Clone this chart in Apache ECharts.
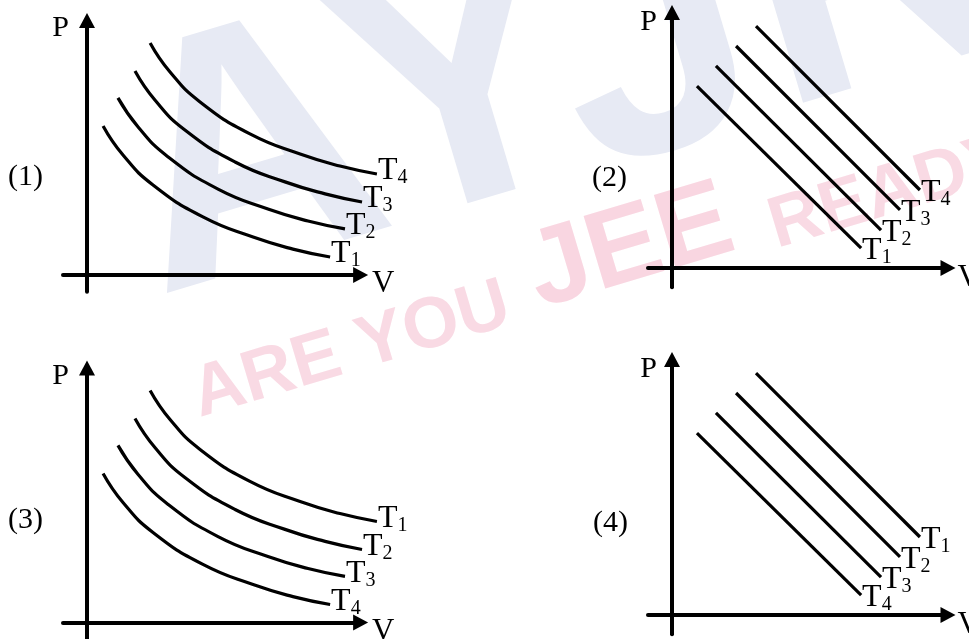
<!DOCTYPE html>
<html>
<head>
<meta charset="utf-8">
<style>
  html, body { margin: 0; padding: 0; background: #fff; }
  #chart { width: 969px; height: 639px; }
</style>
</head>
<body>
<div id="chart"></div>
<script src="https://cdn.jsdelivr.net/npm/echarts@6/dist/echarts.min.js"></script>
<script>
// isotherms, [V, P], top curve first
var hypA = [[2.63, 9.67], [3.46, 8.46], [4.71, 7.21], [6.79, 5.88], [8.88, 5.04], [10.54, 4.54], [12.08, 4.21]];
var hypB = [[2.0, 8.5], [2.83, 7.29], [4.08, 6.04], [6.17, 4.71], [8.25, 3.88], [9.92, 3.38], [11.46, 3.04]];
var hypC = [[1.29, 7.38], [2.13, 6.17], [3.38, 4.92], [5.46, 3.58], [7.54, 2.75], [9.21, 2.25], [10.75, 1.92]];
var hypD = [[0.67, 6.21], [1.5, 5.0], [2.75, 3.75], [4.83, 2.42], [6.92, 1.58], [8.58, 1.08], [10.13, 0.75]];

// straight lines, [V, P] start and end
var lineA = [[3.5, 10.08], [10.33, 3.25]];
var lineB = [[2.67, 9.25], [9.5, 2.42]];
var lineC = [[1.83, 8.42], [8.71, 1.58]];
var lineD = [[1.04, 7.58], [7.88, 0.83]];

// subscripts of T, top curve first
var subs1 = ['4', '3', '2', '1'];
var subs2 = ['4', '3', '2', '1'];
var subs3 = ['1', '2', '3', '4'];
var subs4 = ['1', '2', '3', '4'];

var tags = ['(1)', '(2)', '(3)', '(4)'];

var serif = '"Liberation Serif", "Times New Roman", serif';
var sans = '"Liberation Sans", Arial, sans-serif';

var myChart = echarts.init(document.getElementById('chart'));

var hyps = [hypA, hypB, hypC, hypD];
var lines = [lineA, lineB, lineC, lineD];

var panels = [
  {curves: hyps, subs: subs1, smooth: true, left: 63, top: 20.6, kind: 'a'},
  {curves: lines, subs: subs2, smooth: false, left: 648, top: 12.4, kind: 'b'},
  {curves: hyps, subs: subs3, smooth: true, left: 63, top: 368.1, kind: 'a'},
  {curves: lines, subs: subs4, smooth: false, left: 648, top: 359.4, kind: 'b'}
];

// axis ranges per panel kind (24px per unit); plotMax is wider so curve ends are not cut
var kinds = {
  a: {xmin: -1, xmax: 11.4, plotMax: 13, ymin: -0.7, ymax: 10.6, pGap: -8, pPad: 18, vGap: 11.4, vLh: 18, dy: -3},
  b: {xmin: -1, xmax: 11.5, plotMax: 12.5, ymin: -0.8, ymax: 10.65, pGap: -10, pPad: 15, vGap: 9.5, vLh: 20, dy: 3}
};
var unit = 24;

var axisLine = {
  show: true,
  onZero: true,
  symbol: ['none', 'triangle'],
  symbolSize: [16, 15],
  lineStyle: {color: '#000', width: 4}
};
var hidden = {show: false};

var grid = [], xAxis = [], yAxis = [], series = [];

panels.forEach(function (p, i) {
  var k = kinds[p.kind];
  var h = (k.ymax - k.ymin) * unit;
  // frame grid: the visible axes
  grid.push({left: p.left, top: p.top, width: (k.xmax - k.xmin) * unit, height: h, outerBoundsMode: 'none'});
  // plot grid: same scale, wider, holds the curves
  grid.push({left: p.left, top: p.top, width: (k.plotMax - k.xmin) * unit, height: h, outerBoundsMode: 'none'});
  xAxis.push({
    type: 'value', gridIndex: 2 * i, min: k.xmin, max: k.xmax,
    axisLine: axisLine, axisTick: hidden, axisLabel: hidden, splitLine: hidden,
    name: 'V', nameLocation: 'end', nameGap: k.vGap,
    nameTextStyle: {color: '#000', fontSize: 31, fontFamily: serif, align: 'left', verticalAlign: 'top', lineHeight: k.vLh}
  });
  yAxis.push({
    type: 'value', gridIndex: 2 * i, min: k.ymin, max: k.ymax,
    axisLine: axisLine, axisTick: hidden, axisLabel: hidden, splitLine: hidden,
    name: 'P', nameLocation: 'end', nameGap: k.pGap,
    nameTextStyle: {color: '#000', fontSize: 30, fontFamily: serif, align: 'right', verticalAlign: 'middle', padding: [0, k.pPad, 0, 0]}
  });
  xAxis.push({type: 'value', gridIndex: 2 * i + 1, min: k.xmin, max: k.plotMax, show: false});
  yAxis.push({type: 'value', gridIndex: 2 * i + 1, min: k.ymin, max: k.ymax, show: false});

  p.curves.forEach(function (c, j) {
    var sub = p.subs[j];
    series.push({
      type: 'line',
      xAxisIndex: 2 * i + 1,
      yAxisIndex: 2 * i + 1,
      data: c,
      smooth: p.smooth,
      showSymbol: false,
      silent: true,
      lineStyle: {color: '#000', width: 3.2},
      endLabel: {
        show: true,
        distance: 1,
        offset: [0, k.dy],
        formatter: function () { return '{t|T}{s|' + sub + '}'; },
        rich: {
          t: {fontSize: 32, fontFamily: serif, color: '#000'},
          s: {fontSize: 20, fontFamily: serif, color: '#000', padding: [14, 0, 0, 0]}
        }
      }
    });
  });
});

// watermark letters and panel numbers
var rot = 0.29;
function mark(text, x, y, font, fill) {
  return {type: 'text', x: x, y: y, rotation: rot, z: -5, silent: true,
    style: {text: text, font: font, fill: fill, align: 'left', verticalAlign: 'middle', textAlign: 'left', textVerticalAlign: 'middle'}};
}
var big = 'bold 350px ' + sans;
var graphics = [
  mark('A', 131, 203, big, '#e7eaf4'),
  mark('Y', 352, 137, big, '#e7eaf4'),
  mark('J', 561, 80, big, '#e7eaf4'),
  mark('R', 753, 17, big, '#e7eaf4'),
  mark('ARE YOU', 194, 398, 'bold 72px ' + sans, '#f9dae4'),
  mark('JEE', 531, 279, 'bold 110px ' + sans, '#f9d6e1'),
  mark('READY', 771, 229, 'bold 72px ' + sans, '#f9dae4')
];
var tagPos = [[8, 177], [592, 178], [8, 520], [593, 523]];
tags.forEach(function (t, i) {
  graphics.push({type: 'text', x: tagPos[i][0], y: tagPos[i][1], z: 10, silent: true,
    style: {text: t, font: '30px ' + serif, fill: '#000', align: 'left', verticalAlign: 'middle', textAlign: 'left', textVerticalAlign: 'middle'}});
});

option = {
  backgroundColor: '#fff',
  animation: false,
  graphic: {elements: graphics},
  grid: grid,
  xAxis: xAxis,
  yAxis: yAxis,
  series: series
};

myChart.setOption(option);
</script>
</body>
</html>
